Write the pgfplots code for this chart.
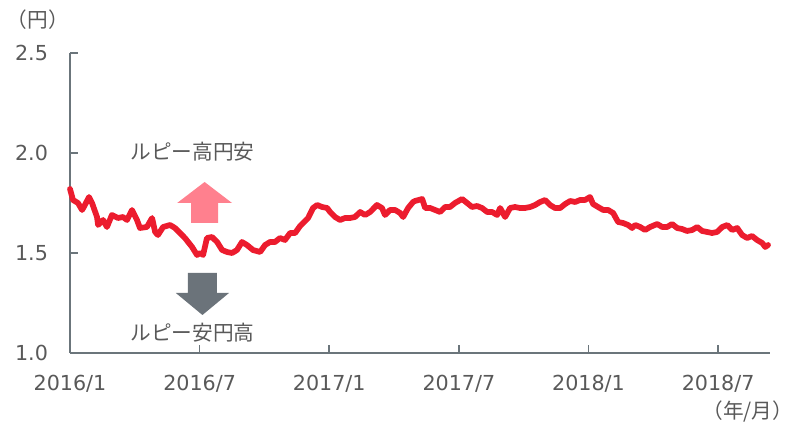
\documentclass[border=0pt]{standalone}
\usepackage{pgfplots}
\pgfplotsset{compat=1.18}
\usepackage{fontspec}
\setmainfont{DejaVu Sans}
\newfontfamily\jp{Noto Sans CJK JP}
\definecolor{axisgray}{HTML}{6B757B}
\definecolor{textgray}{HTML}{595959}
\definecolor{linered}{HTML}{EC1C2E}
\definecolor{pinkarrow}{HTML}{FF808E}
\definecolor{grayarrow}{HTML}{6B737A}
\begin{document}
\begin{tikzpicture}
\begin{axis}[
 scale only axis, width=525pt, height=225pt,
 xmin=0, xmax=32.4, ymin=1, ymax=2.5,
 axis lines*=left,
 axis line style={axisgray, line width=2.2pt},
 xtick={0,6,12,18,24,30},
 xticklabels={2016/1,2016/7,2017/1,2017/7,2018/1,2018/7},
 ytick={1,1.5,2,2.5},
 yticklabels={1.0,1.5,2.0,2.5},
 tick align=inside,
 major tick length=6pt,
 tick style={axisgray, line width=1.2pt},
 ticklabel style={font=\fontsize{15.5}{18}\selectfont, text=textgray},
 xticklabel style={yshift=-13pt},
 yticklabel style={xshift=-13pt},
 clip=false,
]
\addplot[linered, line width=4.3pt, line join=round, line cap=round] table {
x y
0.00 1.82
0.14 1.765
0.37 1.75
0.56 1.715
0.69 1.74
0.88 1.78
1.02 1.75
1.25 1.68
1.30 1.64
1.53 1.665
1.71 1.63
1.94 1.69
2.22 1.675
2.45 1.68
2.64 1.665
2.87 1.715
3.10 1.665
3.24 1.625
3.56 1.63
3.80 1.675
3.94 1.605
4.07 1.59
4.31 1.63
4.63 1.64
4.86 1.625
5.09 1.60
5.32 1.575
5.65 1.53
5.88 1.49
6.02 1.50
6.16 1.49
6.34 1.575
6.57 1.58
6.81 1.555
7.04 1.515
7.27 1.505
7.50 1.50
7.73 1.515
7.96 1.555
8.19 1.54
8.47 1.515
8.80 1.505
9.03 1.54
9.26 1.555
9.49 1.555
9.72 1.575
9.95 1.565
10.19 1.60
10.42 1.60
10.65 1.635
11.02 1.675
11.25 1.725
11.44 1.74
11.67 1.73
11.90 1.725
12.04 1.705
12.27 1.68
12.50 1.665
12.73 1.675
12.96 1.675
13.19 1.68
13.43 1.705
13.66 1.69
13.89 1.705
14.21 1.74
14.44 1.725
14.58 1.69
14.81 1.715
15.05 1.715
15.28 1.70
15.42 1.68
15.65 1.725
15.88 1.755
15.97 1.76
16.30 1.77
16.44 1.725
16.67 1.725
16.90 1.715
17.13 1.705
17.36 1.73
17.59 1.73
17.82 1.75
18.15 1.77
18.38 1.75
18.61 1.73
18.84 1.735
19.07 1.725
19.31 1.705
19.54 1.705
19.77 1.69
19.91 1.725
20.14 1.68
20.37 1.725
20.60 1.73
20.83 1.725
21.06 1.725
21.30 1.73
21.53 1.74
21.76 1.755
21.99 1.765
22.22 1.74
22.45 1.725
22.69 1.725
22.92 1.745
23.15 1.76
23.38 1.755
23.61 1.765
23.84 1.765
24.07 1.78
24.21 1.745
24.44 1.73
24.68 1.715
24.91 1.715
25.14 1.70
25.37 1.655
25.60 1.65
25.83 1.64
26.02 1.625
26.16 1.64
26.39 1.63
26.62 1.615
26.85 1.63
27.18 1.645
27.41 1.63
27.64 1.63
27.87 1.645
28.10 1.625
28.33 1.62
28.56 1.61
28.80 1.615
29.03 1.63
29.26 1.61
29.49 1.605
29.72 1.60
29.95 1.605
30.19 1.63
30.42 1.64
30.65 1.615
30.88 1.625
31.11 1.59
31.34 1.575
31.57 1.585
31.80 1.565
32.04 1.55
32.18 1.53
32.31 1.54
};
\fill[pinkarrow] (axis cs:5.605,1.65) -- (axis cs:5.605,1.75) -- (axis cs:4.96,1.75) -- (axis cs:6.23,1.855) -- (axis cs:7.50,1.75) -- (axis cs:6.855,1.75) -- (axis cs:6.855,1.65) -- cycle;
\fill[grayarrow] (axis cs:5.46,1.40) -- (axis cs:5.46,1.30) -- (axis cs:4.90,1.30) -- (axis cs:6.13,1.19) -- (axis cs:7.36,1.30) -- (axis cs:6.80,1.30) -- (axis cs:6.80,1.40) -- cycle;
\node[text=textgray, font=\jp\fontsize{15.5}{18}\selectfont] at (axis cs:5.67,2.005) {ルピー高円安};
\node[text=textgray, font=\jp\fontsize{15.5}{18}\selectfont] at (axis cs:5.67,1.10) {ルピー安円高};
\node[text=textgray, font=\jp\fontsize{15.5}{18}\selectfont, xshift=-24pt, yshift=24.75pt] at (rel axis cs:0,1) {（円）};
\node[text=textgray, font=\jp\fontsize{15.5}{18}\selectfont, anchor=east, xshift=21pt, yshift=-44.25pt] at (rel axis cs:1,0) {（年/月）};
\coordinate (SW) at (rel axis cs:0,0);
\coordinate (NE) at (rel axis cs:1,1);
\end{axis}
\pgfresetboundingbox
\path[use as bounding box] ([shift={(-52.5pt,-54pt)}]SW) rectangle ([shift={(21pt,39.75pt)}]NE);
\end{tikzpicture}
\end{document}
